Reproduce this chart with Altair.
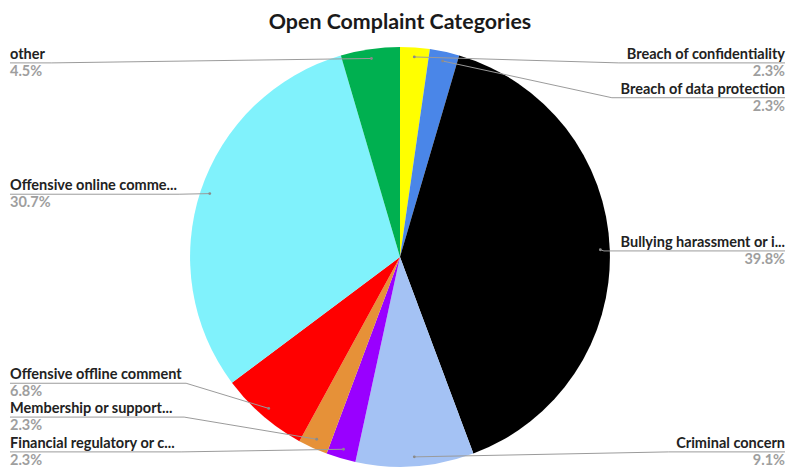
import math
import altair as alt
import pandas as pd

# ---- data ----
categories = [
    "Breach of confidentiality",
    "Breach of data protection",
    "Bullying harassment or i...",
    "Criminal concern",
    "Financial regulatory or c...",
    "Membership or support...",
    "Offensive offline comment",
    "Offensive online comme...",
    "other",
]
counts = [2, 2, 35, 8, 2, 2, 6, 27, 4]
colors = ["#ffff00", "#4a86e8", "#000000", "#a4c2f4", "#9900ff",
          "#e69138", "#ff0000", "#80f2fc", "#00b050"]
title_text = "Open Complaint Categories"

# ---- layout (page pixels) ----
label_side = ["right", "right", "right", "right", "left", "left", "left", "left", "left"]
label_line_y = [62, 97, 251, 453, 453, 418, 384, 194, 62]
label_elbow_x = [620, 613, 605, 670, 180, 183, 185, 178, 50]

W, H = 779, 461
OFF = 8
CX, CY, R = 400 - OFF, 257 - OFF, 211
ANCHOR = 0.955
FONT = "Lato"
LABEL_SIZE = 14.6
RIGHT_EDGE = W

total = sum(counts)
pie_df = pd.DataFrame({"category": categories, "count": counts, "idx": range(len(categories))})

line_rows, dot_rows, name_rows, pct_rows = [], [], [], []
cum = 0
for i, (cat, c) in enumerate(zip(categories, counts)):
    mid = (cum + c / 2) / total * 2 * math.pi
    cum += c
    ax = CX + ANCHOR * R * math.sin(mid)
    ay = CY - ANCHOR * R * math.cos(mid)
    ly = label_line_y[i] - OFF
    ex = label_elbow_x[i] - OFF
    edge = RIGHT_EDGE if label_side[i] == "right" else 0
    for o, (px, py) in enumerate([(edge, ly), (ex, ly), (ax, ay)]):
        line_rows.append({"category": cat, "o": o, "x": px, "y": py})
    dot_rows.append({"category": cat, "x": ax, "y": ay})
    pct = f"{c / total * 100:.1f}%"
    name_rows.append({"category": cat, "side": label_side[i], "x": edge, "y": ly - 4, "t": cat})
    pct_rows.append({"category": cat, "side": label_side[i], "x": edge, "y": ly + 13, "t": pct})

line_df = pd.DataFrame(line_rows)
dot_df = pd.DataFrame(dot_rows)
name_df = pd.DataFrame(name_rows)
pct_df = pd.DataFrame(pct_rows)

xs = alt.Scale(domain=[0, W], nice=False, zero=False)
ys = alt.Scale(domain=[0, H], reverse=True, nice=False, zero=False)

pie = alt.Chart(pie_df).mark_arc(outerRadius=R).encode(
    theta=alt.Theta("count:Q", stack=True),
    color=alt.Color("category:N", scale=alt.Scale(domain=categories, range=colors), legend=None),
    order=alt.Order("idx:Q"),
    x=alt.value(CX),
    y=alt.value(CY),
)

lines = alt.Chart(line_df).mark_line(color="#9a9a9a", strokeWidth=1).encode(
    x=alt.X("x:Q", scale=xs, axis=None),
    y=alt.Y("y:Q", scale=ys, axis=None),
    detail="category:N",
    order="o:Q",
)

dots = alt.Chart(dot_df).mark_circle(size=8, color="#8a8a8a", opacity=1).encode(
    x=alt.X("x:Q", scale=xs, axis=None),
    y=alt.Y("y:Q", scale=ys, axis=None),
)


def text_layer(df, side, color):
    return alt.Chart(df).transform_filter(alt.datum.side == side).mark_text(
        align=side, baseline="alphabetic", font=FONT, fontSize=LABEL_SIZE, fontWeight="bold", color=color
    ).encode(
        x=alt.X("x:Q", scale=xs, axis=None),
        y=alt.Y("y:Q", scale=ys, axis=None),
        text="t:N",
    )


title_df = pd.DataFrame({"x": [400 - OFF], "y": [3], "t": [title_text]})
title = alt.Chart(title_df).mark_text(
    align="center", baseline="top", font=FONT, fontSize=21.5, fontWeight="bold", color="#1a1a1a"
).encode(
    x=alt.X("x:Q", scale=xs, axis=None),
    y=alt.Y("y:Q", scale=ys, axis=None),
    text="t:N",
)

chart = alt.layer(
    pie, lines, dots,
    text_layer(name_df, "left", "#222222"), text_layer(name_df, "right", "#222222"),
    text_layer(pct_df, "left", "#9e9e9e"), text_layer(pct_df, "right", "#9e9e9e"),
    title,
).properties(width=W, height=H, padding=0).configure_view(stroke=None)

chart.save("out.html", embed_options={"renderer": "svg", "actions": False})
